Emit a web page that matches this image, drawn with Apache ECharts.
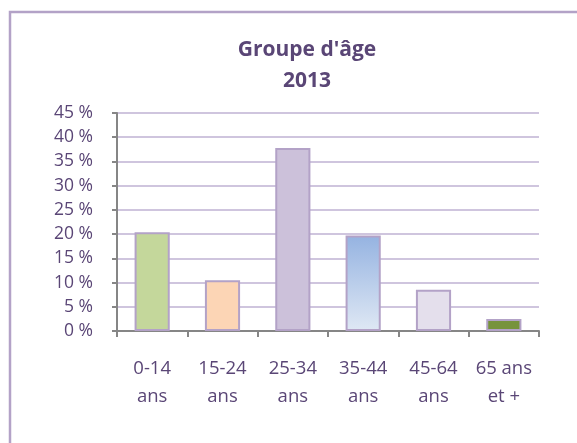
<!DOCTYPE html>
<html>
<head>
<meta charset="utf-8">
<script src="https://cdn.jsdelivr.net/npm/echarts@6/dist/echarts.min.js"></script>
<style>html,body{margin:0;padding:0;background:#fff;}#c{width:577px;height:443px;}</style>
</head>
<body>
<div id="c"></div>
<script>
const categories = ["0-14\nans", "15-24\nans", "25-34\nans", "35-44\nans", "45-64\nans", "65 ans\net +"];
const values = [20.4, 10.5, 37.8, 19.7, 8.5, 2.5];
const yTicks = [0, 5, 10, 15, 20, 25, 30, 35, 40, 45];
const titleText = "Groupe d'âge\n2013";

const barColors = [
  '#c4d79b',
  '#fcd5b5',
  '#ccc1da',
  {type:'linear', x:0, y:0, x2:0, y2:1, colorStops:[{offset:0,color:'#95b3e1'},{offset:1,color:'#dfe8f4'}]},
  '#e4dfec',
  '#77933c'
];
const textColor = '#5a4676';
const font = 'Open Sans';

const chart = echarts.init(document.getElementById('c'));
chart.setOption({
  animation: false,
  backgroundColor: '#fff',
  graphic: [{
    type: 'rect',
    shape: {x: 10, y: 12, width: 1000, height: 1000},
    style: {fill: 'none', stroke: '#b3a2c7', lineWidth: 2.5},
    silent: true
  }],
  title: {
    text: titleText,
    left: 307,
    textAlign: 'center',
    top: 35,
    padding: 0,
    textStyle: {fontFamily: font, fontWeight: 'bold', fontSize: 21, color: textColor, lineHeight: 31}
  },
  grid: {left: 117, right: 38, top: 113, bottom: 112, containLabel: false},
  xAxis: {
    type: 'category',
    data: categories,
    axisLine: {lineStyle: {color: '#868686', width: 2}},
    axisTick: {show: true, length: 6, lineStyle: {color: '#868686', width: 2}},
    axisLabel: {margin: 24, fontFamily: font, fontSize: 18.5, color: textColor, lineHeight: 28, interval: 0}
  },
  yAxis: {
    type: 'value',
    min: yTicks[0],
    max: yTicks[yTicks.length - 1],
    interval: yTicks[1] - yTicks[0],
    axisLine: {show: true, lineStyle: {color: '#868686', width: 2}},
    axisTick: {show: true, length: 5, lineStyle: {color: '#868686', width: 2}},
    axisLabel: {margin: 24, fontFamily: font, fontSize: 17.5, color: textColor, formatter: v => v + ' %'},
    splitLine: {lineStyle: {color: '#cfc5de', width: 2}}
  },
  series: [{
    type: 'bar',
    barWidth: '50%',
    data: values.map((v, i) => ({value: v, itemStyle: {color: barColors[i]}})),
    itemStyle: {borderColor: '#b3a2c7', borderWidth: 2}
  }]
});
</script>
</body>
</html>
